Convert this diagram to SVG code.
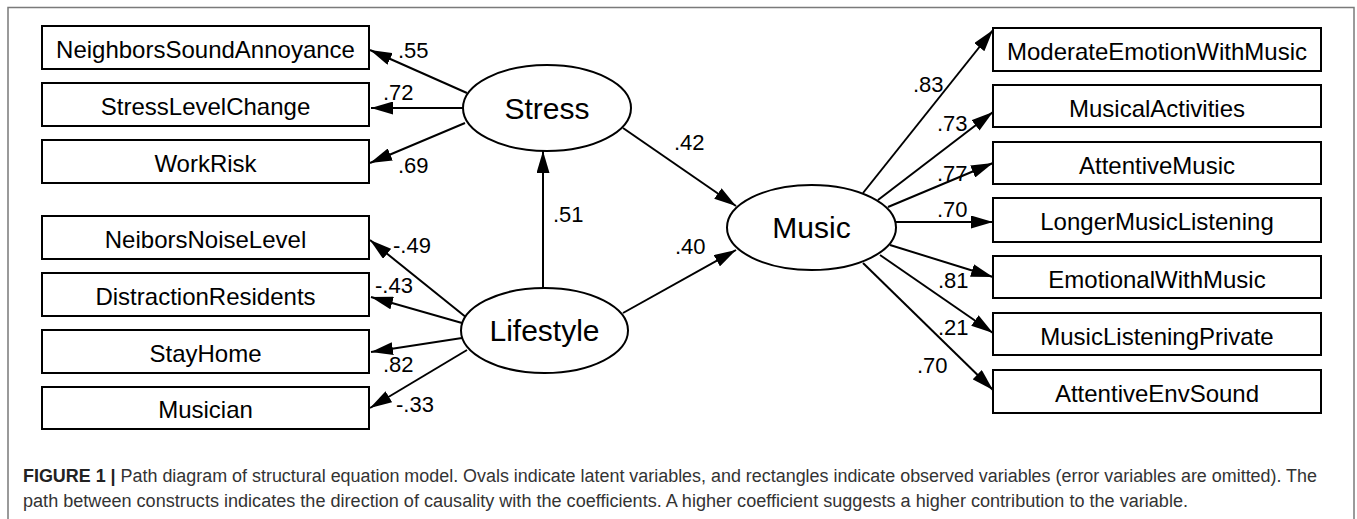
<svg xmlns="http://www.w3.org/2000/svg" width="1357" height="519" viewBox="0 0 1357 519">
<style>
.box{fill:#fff;stroke:#000;stroke-width:2}
.oval{fill:#fff;stroke:#000;stroke-width:2}
.bt{font-family:"Liberation Sans",Arial,sans-serif;font-size:24px;fill:#000;text-anchor:middle}
.ot{font-family:"Liberation Sans",Arial,sans-serif;font-size:30px;fill:#000;text-anchor:middle}
.co{font-family:"Liberation Sans",Arial,sans-serif;font-size:22px;fill:#000}
.ln{stroke:#000;stroke-width:2;fill:none;marker-end:url(#ah)}
.cap{font-family:"Liberation Sans",Arial,sans-serif;font-size:18px;fill:#333}
</style>
<defs>
<marker id="ah" markerUnits="userSpaceOnUse" markerWidth="22" markerHeight="13" refX="22" refY="6.5" orient="auto" viewBox="0 0 22 13">
<path d="M0,0 L22,6.5 L0,13 z" fill="#000"/>
</marker>
</defs>
<rect x="8" y="7.5" width="1346" height="600" fill="#fff" stroke="#7a7a7a" stroke-width="1.5"/>

<g id="connectors">
<line class="ln" x1="467" y1="93" x2="370" y2="50"/>
<line class="ln" x1="463" y1="108" x2="371" y2="108"/>
<line class="ln" x1="465" y1="123" x2="370" y2="163"/>
<line class="ln" x1="467" y1="318" x2="370" y2="240"/>
<line class="ln" x1="462" y1="323" x2="371" y2="297"/>
<line class="ln" x1="462" y1="338" x2="371" y2="352"/>
<line class="ln" x1="467" y1="350" x2="370" y2="408"/>
<line class="ln" x1="543" y1="288" x2="543" y2="151"/>
<line class="ln" x1="623" y1="313" x2="736" y2="250"/>
<line class="ln" x1="623" y1="128" x2="736" y2="206"/>
<line class="ln" x1="863" y1="193" x2="993" y2="30"/>
<line class="ln" x1="878" y1="200" x2="993" y2="112"/>
<line class="ln" x1="888" y1="207" x2="993" y2="163"/>
<line class="ln" x1="896" y1="222" x2="993" y2="222"/>
<line class="ln" x1="890" y1="245" x2="993" y2="277"/>
<line class="ln" x1="880" y1="255" x2="993" y2="333"/>
<line class="ln" x1="863" y1="263" x2="993" y2="390"/>
<text class="co" x="398" y="58">.55</text>
<text class="co" x="383" y="100">.72</text>
<text class="co" x="398" y="173">.69</text>
<text class="co" x="393" y="253">-.49</text>
<text class="co" x="375" y="293">-.43</text>
<text class="co" x="383" y="372">.82</text>
<text class="co" x="396" y="412">-.33</text>
<text class="co" x="674" y="150">.42</text>
<text class="co" x="553" y="222">.51</text>
<text class="co" x="675" y="254">.40</text>
<text class="co" x="913" y="92">.83</text>
<text class="co" x="937" y="131">.73</text>
<text class="co" x="937" y="181">.77</text>
<text class="co" x="937" y="217">.70</text>
<text class="co" x="938" y="288">.81</text>
<text class="co" x="938" y="335">.21</text>
<text class="co" x="917" y="373">.70</text>
</g>

<g id="n-nsa"><rect class="box" x="42" y="26" width="327" height="43"/><text class="bt" x="205.5" y="58">NeighborsSoundAnnoyance</text></g>
<g id="n-slc"><rect class="box" x="42" y="83" width="327" height="43"/><text class="bt" x="205.5" y="115">StressLevelChange</text></g>
<g id="n-wr"><rect class="box" x="42" y="140" width="327" height="43"/><text class="bt" x="205.5" y="172">WorkRisk</text></g>
<g id="n-nnl"><rect class="box" x="42" y="216" width="327" height="43"/><text class="bt" x="205.5" y="248">NeiborsNoiseLevel</text></g>
<g id="n-dr"><rect class="box" x="42" y="273" width="327" height="43"/><text class="bt" x="205.5" y="305">DistractionResidents</text></g>
<g id="n-sh"><rect class="box" x="42" y="330" width="327" height="43"/><text class="bt" x="205.5" y="362">StayHome</text></g>
<g id="n-mus"><rect class="box" x="42" y="387" width="327" height="42"/><text class="bt" x="205.5" y="418">Musician</text></g>

<g id="n-stress"><ellipse class="oval" cx="547" cy="108" rx="84" ry="43"/><text class="ot" x="547" y="119">Stress</text></g>
<g id="n-lifestyle"><ellipse class="oval" cx="544.5" cy="330.5" rx="83.5" ry="42.5"/><text class="ot" x="544.5" y="341">Lifestyle</text></g>
<g id="n-music"><ellipse class="oval" cx="811.5" cy="227.5" rx="84.5" ry="42.5"/><text class="ot" x="811.5" y="238">Music</text></g>

<g id="n-mewm"><rect class="box" x="993" y="28" width="328" height="43"/><text class="bt" x="1157" y="60">ModerateEmotionWithMusic</text></g>
<g id="n-ma"><rect class="box" x="993" y="85" width="328" height="42"/><text class="bt" x="1157" y="117">MusicalActivities</text></g>
<g id="n-am"><rect class="box" x="993" y="142" width="328" height="42"/><text class="bt" x="1157" y="174">AttentiveMusic</text></g>
<g id="n-lml"><rect class="box" x="993" y="198" width="328" height="44"/><text class="bt" x="1157" y="230">LongerMusicListening</text></g>
<g id="n-ewm"><rect class="box" x="993" y="256" width="328" height="42"/><text class="bt" x="1157" y="288">EmotionalWithMusic</text></g>
<g id="n-mlp"><rect class="box" x="993" y="313" width="328" height="42"/><text class="bt" x="1157" y="345">MusicListeningPrivate</text></g>
<g id="n-aes"><rect class="box" x="993" y="370" width="328" height="43"/><text class="bt" x="1157" y="402">AttentiveEnvSound</text></g>

<g id="caption">
<text class="cap" x="23" y="482" textLength="1294" lengthAdjust="spacingAndGlyphs"><tspan font-weight="bold" fill="#222">FIGURE 1</tspan><tspan fill="#222" font-weight="bold"> | </tspan>Path diagram of structural equation model. Ovals indicate latent variables, and rectangles indicate observed variables (error variables are omitted). The</text>
<text class="cap" x="23" y="507" textLength="1165" lengthAdjust="spacingAndGlyphs">path between constructs indicates the direction of causality with the coefficients. A higher coefficient suggests a higher contribution to the variable.</text>
</g>
</svg>
